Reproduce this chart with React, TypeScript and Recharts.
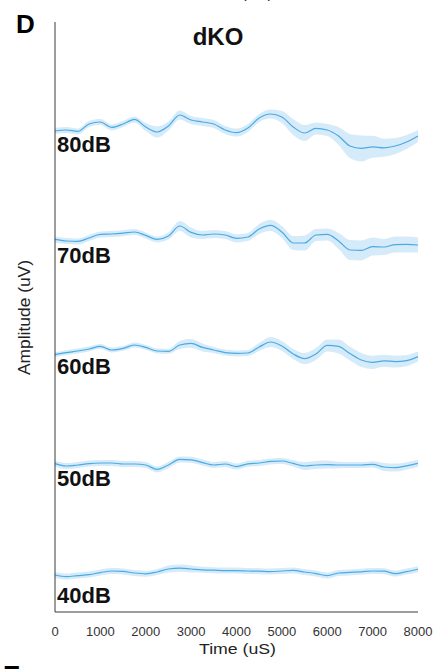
import { Area, ComposedChart, Line, ReferenceDot, XAxis, YAxis } from 'recharts';

const LINE_COLOR = '#4aaae3';
const BAND_COLOR = '#d6ebf9';
const AXIS_COLOR = '#3a3a3a';
const FONT = "'Liberation Sans', Arial, sans-serif";

// time base, µs
const TIME = [
  0, 250, 500, 750, 1000, 1250, 1500, 1750, 2000, 2250, 2500, 2750, 3000, 3250, 3500, 3750, 4000,
  4250, 4500, 4750, 5000, 5250, 5500, 5750, 6000, 6250, 6500, 6750, 7000, 7250, 7500, 7750, 8000,
];
const X_TICKS = [0, 1000, 2000, 3000, 4000, 5000, 6000, 7000, 8000];

const LEVELS = ['80dB', '70dB', '60dB', '50dB', '40dB'];
// vertical stacking offset of each trace (uV)
const OFFSET = [24, 18.5, 13, 7.5, 2];
// where each level label sits (uV)
const LABEL_Y = [23.38, 17.83, 12.27, 6.68, 0.85];

const MEAN_80 = [
  0.05, 0.1, 0.03, 0.4, 0.5, 0.23, 0.4, 0.63, 0.25, 0.0, 0.3, 0.85, 0.6, 0.5, 0.4, 0.1, -0.03,
  0.2, 0.7, 0.9, 0.75, 0.25, -0.05, 0.18, 0.1, -0.2, -0.7, -0.82, -0.74, -0.79, -0.7, -0.5, -0.2,
];
const SEM_80 = [
  0.15, 0.15, 0.15, 0.15, 0.15, 0.15, 0.15, 0.15, 0.2, 0.28, 0.22, 0.22, 0.2, 0.2, 0.2, 0.2, 0.2,
  0.2, 0.2, 0.22, 0.3, 0.4, 0.4, 0.3, 0.3, 0.45, 0.6, 0.65, 0.55, 0.45, 0.4, 0.35, 0.3,
];

const MEAN_70 = [
  0.13, 0.05, 0.03, 0.2, 0.38, 0.4, 0.44, 0.5, 0.33, 0.13, 0.3, 0.8, 0.48, 0.35, 0.4, 0.35, 0.18,
  0.25, 0.65, 0.83, 0.5, -0.05, -0.05, 0.35, 0.38, 0.05, -0.4, -0.42, -0.23, -0.25, -0.13, -0.12, -0.15,
];
const SEM_70 = [
  0.15, 0.15, 0.15, 0.15, 0.15, 0.15, 0.15, 0.15, 0.15, 0.15, 0.18, 0.25, 0.25, 0.2, 0.2, 0.2, 0.2,
  0.2, 0.25, 0.28, 0.3, 0.35, 0.38, 0.3, 0.3, 0.4, 0.5, 0.5, 0.45, 0.4, 0.4, 0.4, 0.38,
];

const MEAN_60 = [
  -0.13, -0.03, 0.05, 0.15, 0.28, 0.1, 0.18, 0.35, 0.23, 0.05, 0.03, 0.35, 0.43, 0.23, 0.1, -0.03, -0.07,
  -0.05, 0.25, 0.5, 0.3, -0.1, -0.33, -0.1, 0.33, 0.28, -0.08, -0.4, -0.52, -0.44, -0.48, -0.43, -0.23,
];
const SEM_60 = [
  0.12, 0.12, 0.12, 0.12, 0.12, 0.12, 0.12, 0.12, 0.12, 0.12, 0.12, 0.2, 0.22, 0.2, 0.15, 0.15, 0.15,
  0.15, 0.2, 0.25, 0.25, 0.25, 0.28, 0.3, 0.3, 0.35, 0.35, 0.35, 0.33, 0.3, 0.3, 0.28, 0.25,
];

const MEAN_50 = [
  -0.08, -0.2, -0.15, -0.08, -0.05, -0.05, -0.1, -0.1, -0.15, -0.37, -0.15, 0.13, 0.11, -0.03, -0.15, -0.1, -0.23,
  -0.09, -0.05, 0.03, 0.05, -0.07, -0.2, -0.15, -0.13, -0.15, -0.15, -0.15, -0.12, -0.25, -0.28, -0.19, -0.07,
];
const SEM_50 = [
  0.15, 0.15, 0.15, 0.15, 0.15, 0.15, 0.15, 0.15, 0.15, 0.15, 0.15, 0.15, 0.15, 0.15, 0.15, 0.15, 0.15,
  0.15, 0.15, 0.15, 0.15, 0.16, 0.2, 0.2, 0.2, 0.16, 0.15, 0.15, 0.16, 0.2, 0.2, 0.18, 0.18,
];

const MEAN_40 = [
  -0.15, -0.23, -0.18, -0.13, -0.03, 0.05, 0.03, -0.05, -0.09, 0.0, 0.15, 0.19, 0.15, 0.11, 0.09, 0.07, 0.07,
  0.05, 0.04, 0.02, 0.05, 0.08, 0.0, -0.08, -0.18, -0.05, -0.02, 0.01, 0.05, 0.04, -0.08, 0.02, 0.14,
];
const SEM_40 = [
  0.15, 0.15, 0.15, 0.15, 0.15, 0.15, 0.15, 0.15, 0.15, 0.15, 0.18, 0.18, 0.18, 0.15, 0.15, 0.15, 0.15,
  0.15, 0.15, 0.15, 0.15, 0.15, 0.15, 0.15, 0.15, 0.15, 0.15, 0.15, 0.15, 0.15, 0.15, 0.15, 0.15,
];

const MEANS = [MEAN_80, MEAN_70, MEAN_60, MEAN_50, MEAN_40];
const SEMS = [SEM_80, SEM_70, SEM_60, SEM_50, SEM_40];

const data = TIME.map((t, i) => {
  const row: Record<string, number | number[]> = { t };
  LEVELS.forEach((lvl, k) => {
    const m = OFFSET[k] + MEANS[k][i];
    const s = SEMS[k][i];
    row[`m${lvl}`] = m;
    row[`b${lvl}`] = [m - s, m + s];
  });
  return row;
});

export default function App() {
  return (
    <div style={{ position: 'absolute', left: 0, top: 0, width: 433, height: 669, overflow: 'hidden', background: '#fff' }}>
      <ComposedChart width={433} height={669} data={data} margin={{ top: 22, right: 15, left: 0, bottom: 27 }}>
        <XAxis
          type="number"
          dataKey="t"
          domain={[0, 8000]}
          ticks={X_TICKS}
          interval={0}
          tickLine={false}
          tickMargin={9}
          height={30}
          axisLine={{ stroke: AXIS_COLOR }}
          tick={{ fontSize: 13, fill: '#333', fontFamily: FONT }}
        />
        <YAxis
          type="number"
          domain={[0, 29.5]}
          allowDataOverflow
          tick={false}
          tickLine={false}
          width={55}
          axisLine={{ stroke: AXIS_COLOR }}
        />
        {LEVELS.map((lvl) => (
          <Area
            key={`b${lvl}`}
            dataKey={`b${lvl}`}
            type="monotone"
            stroke="none"
            fill={BAND_COLOR}
            fillOpacity={1}
            isAnimationActive={false}
            activeDot={false}
          />
        ))}
        {LEVELS.map((lvl) => (
          <Line
            key={`m${lvl}`}
            dataKey={`m${lvl}`}
            type="monotone"
            stroke={LINE_COLOR}
            strokeWidth={1.2}
            dot={false}
            activeDot={false}
            isAnimationActive={false}
          />
        ))}
        {LEVELS.map((lvl, k) => (
          <ReferenceDot
            key={`l${lvl}`}
            x={0}
            y={LABEL_Y[k]}
            r={0}
            fill="none"
            stroke="none"
            label={{
              value: lvl,
              position: 'right',
              offset: 2,
              fontSize: 22,
              fontWeight: 700,
              fill: '#111',
              fontFamily: FONT,
            }}
          />
        ))}
      </ComposedChart>
      <svg width={433} height={669} style={{ position: 'absolute', left: 0, top: 0, pointerEvents: 'none' }}>
        <text x={257} y={-2} textAnchor="middle" fontSize={17} fontFamily={FONT} fill="#333">(uV)</text>
        <text x={16} y={33} fontSize={26} fontWeight={700} fontFamily={FONT} fill="#000">D</text>
        <text x={218} y={45} textAnchor="middle" fontSize={24} fontWeight={700} fontFamily={FONT} fill="#111">dKO</text>
        <text
          x={29.5}
          y={317.5}
          textAnchor="middle"
          fontSize={16}
          fontFamily={FONT}
          fill="#222"
          textLength={115}
          lengthAdjust="spacingAndGlyphs"
          transform="rotate(-90 29.5 317.5)"
        >
          Amplitude (uV)
        </text>
        <text
          x={237.5}
          y={654}
          textAnchor="middle"
          fontSize={15}
          fontFamily={FONT}
          fill="#222"
          textLength={77}
          lengthAdjust="spacingAndGlyphs"
        >
          Time (uS)
        </text>
        <text x={3} y={684} fontSize={26} fontWeight={700} fontFamily={FONT} fill="#000">E</text>
      </svg>
    </div>
  );
}
